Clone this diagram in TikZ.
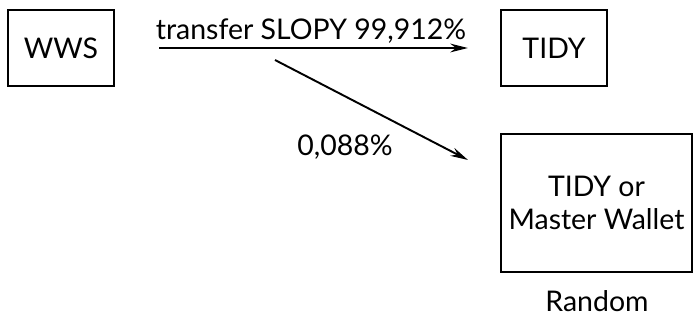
\documentclass[tikz,border=0pt]{standalone}
\usepackage{fontspec}
\setmainfont{Lato}
\usetikzlibrary{arrows.meta}
\tikzstyle{wallet}=[rectangle,draw,line width=1.3pt,minimum width=2.12cm,minimum height=1.52cm,inner sep=2pt,font=\fontsize{16.2}{19}\selectfont]
\tikzstyle{bigwallet}=[wallet,minimum width=3.82cm,minimum height=2.76cm,align=center]
\tikzstyle{edge} = [draw,line width=1.1pt,-{Stealth[length=10pt,width=5pt]}]
\tikzstyle{weight} = [font=\fontsize{16.2}{19}\selectfont]

\begin{document}
\begin{tikzpicture}

  \useasboundingbox (0,0) rectangle (13.88,6.5);

  \def\dy{5.54};

    \foreach \pos/ \name/\label in {{(1.22,\dy)/wws/WWS}, {(11.08,\dy)/tidy/TIDY}}
    	\node[wallet] (\name) at \pos {\label};

    \node[bigwallet] (master) at (11.93,2.44) {TIDY or\\[0pt]Master Wallet};

    % free end of the small transfer
    \coordinate (s2) at (5.5,5.3);
    \coordinate (e2) at (9.36,3.3);

    \path[edge,shorten <=0.88cm,shorten >=0.64cm] (wws) -- (tidy);
    \path[edge] (s2) -- (e2);

% Label
  \node[weight] (big) at (6.22,5.88) {transfer SLOPY 99,912\%};
  \node[weight] (small) at (6.9,3.56) {0,088\%};
  \node[weight] (random) at (11.94,0.48) {Random};

\end{tikzpicture}
\end{document}
